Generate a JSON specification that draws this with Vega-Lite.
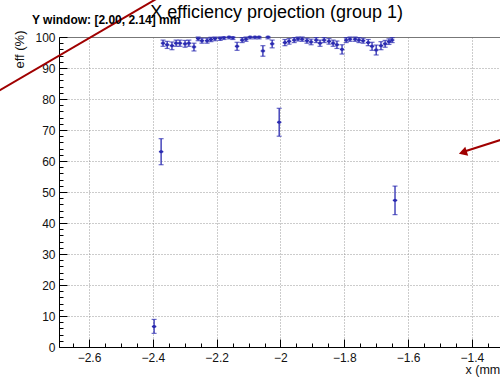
{
  "$schema": "https://vega.github.io/schema/vega-lite/v6.json",
  "width": 441,
  "height": 310,
  "autosize": {"type": "none"},
  "padding": {"left": 59, "top": 37, "right": 0, "bottom": 32},
  "background": "white",
  "config": {"view": {"stroke": null}, "font": "Liberation Sans"},
  "datasets": {
    "pts": [
      {"x": -2.396, "y": 6.6, "ylo": 4.4, "yhi": 8.9, "xlo": -2.403, "xhi": -2.389},
      {"x": -2.374, "y": 63.0, "ylo": 58.8, "yhi": 67.2, "xlo": -2.381, "xhi": -2.367},
      {"x": -2.368, "y": 98.0, "ylo": 97.0, "yhi": 99.0, "xlo": -2.375, "xhi": -2.361},
      {"x": -2.355, "y": 97.5, "ylo": 96.3, "yhi": 98.6, "xlo": -2.362, "xhi": -2.348},
      {"x": -2.340, "y": 97.2, "ylo": 95.9, "yhi": 98.4, "xlo": -2.347, "xhi": -2.333},
      {"x": -2.327, "y": 98.0, "ylo": 97.0, "yhi": 99.0, "xlo": -2.334, "xhi": -2.320},
      {"x": -2.315, "y": 98.0, "ylo": 97.0, "yhi": 99.0, "xlo": -2.322, "xhi": -2.308},
      {"x": -2.299, "y": 97.8, "ylo": 96.7, "yhi": 98.9, "xlo": -2.306, "xhi": -2.292},
      {"x": -2.287, "y": 98.0, "ylo": 97.0, "yhi": 99.0, "xlo": -2.294, "xhi": -2.280},
      {"x": -2.271, "y": 96.8, "ylo": 95.5, "yhi": 98.0, "xlo": -2.278, "xhi": -2.264},
      {"x": -2.258, "y": 99.5, "ylo": 98.8, "yhi": 100, "xlo": -2.265, "xhi": -2.251},
      {"x": -2.246, "y": 98.8, "ylo": 98.0, "yhi": 99.6, "xlo": -2.253, "xhi": -2.239},
      {"x": -2.230, "y": 98.8, "ylo": 98.0, "yhi": 99.6, "xlo": -2.237, "xhi": -2.223},
      {"x": -2.218, "y": 99.2, "ylo": 98.5, "yhi": 99.9, "xlo": -2.225, "xhi": -2.211},
      {"x": -2.205, "y": 99.5, "ylo": 98.8, "yhi": 100, "xlo": -2.212, "xhi": -2.198},
      {"x": -2.189, "y": 99.6, "ylo": 98.9, "yhi": 100, "xlo": -2.196, "xhi": -2.182},
      {"x": -2.177, "y": 99.8, "ylo": 99.2, "yhi": 100, "xlo": -2.184, "xhi": -2.170},
      {"x": -2.161, "y": 100, "ylo": 99.4, "yhi": 100, "xlo": -2.168, "xhi": -2.154},
      {"x": -2.149, "y": 99.8, "ylo": 99.2, "yhi": 100, "xlo": -2.156, "xhi": -2.142},
      {"x": -2.136, "y": 97.0, "ylo": 95.7, "yhi": 98.3, "xlo": -2.143, "xhi": -2.129},
      {"x": -2.120, "y": 99.0, "ylo": 98.2, "yhi": 99.8, "xlo": -2.127, "xhi": -2.113},
      {"x": -2.108, "y": 99.3, "ylo": 98.6, "yhi": 100, "xlo": -2.115, "xhi": -2.101},
      {"x": -2.095, "y": 100, "ylo": 99.4, "yhi": 100, "xlo": -2.102, "xhi": -2.088},
      {"x": -2.080, "y": 100, "ylo": 99.4, "yhi": 100, "xlo": -2.087, "xhi": -2.073},
      {"x": -2.067, "y": 100, "ylo": 99.4, "yhi": 100, "xlo": -2.074, "xhi": -2.060},
      {"x": -2.055, "y": 95.5, "ylo": 93.8, "yhi": 97.2, "xlo": -2.062, "xhi": -2.048},
      {"x": -2.039, "y": 100, "ylo": 99.4, "yhi": 100, "xlo": -2.046, "xhi": -2.032},
      {"x": -2.026, "y": 97.8, "ylo": 96.5, "yhi": 99.0, "xlo": -2.033, "xhi": -2.019},
      {"x": -2.004, "y": 72.5, "ylo": 68.0, "yhi": 77.0, "xlo": -2.011, "xhi": -1.997},
      {"x": -1.986, "y": 98.2, "ylo": 97.2, "yhi": 99.2, "xlo": -1.993, "xhi": -1.979},
      {"x": -1.973, "y": 98.6, "ylo": 97.7, "yhi": 99.5, "xlo": -1.980, "xhi": -1.966},
      {"x": -1.957, "y": 99.0, "ylo": 98.2, "yhi": 99.8, "xlo": -1.964, "xhi": -1.950},
      {"x": -1.945, "y": 99.4, "ylo": 98.7, "yhi": 100, "xlo": -1.952, "xhi": -1.938},
      {"x": -1.932, "y": 99.3, "ylo": 98.6, "yhi": 100, "xlo": -1.939, "xhi": -1.925},
      {"x": -1.917, "y": 98.8, "ylo": 98.0, "yhi": 99.6, "xlo": -1.924, "xhi": -1.910},
      {"x": -1.904, "y": 98.4, "ylo": 97.5, "yhi": 99.3, "xlo": -1.911, "xhi": -1.897},
      {"x": -1.888, "y": 99.0, "ylo": 98.2, "yhi": 99.8, "xlo": -1.895, "xhi": -1.881},
      {"x": -1.876, "y": 98.0, "ylo": 97.0, "yhi": 99.0, "xlo": -1.883, "xhi": -1.869},
      {"x": -1.863, "y": 99.0, "ylo": 98.2, "yhi": 99.8, "xlo": -1.870, "xhi": -1.856},
      {"x": -1.848, "y": 98.6, "ylo": 97.7, "yhi": 99.5, "xlo": -1.855, "xhi": -1.841},
      {"x": -1.835, "y": 98.0, "ylo": 97.0, "yhi": 99.0, "xlo": -1.842, "xhi": -1.828},
      {"x": -1.823, "y": 97.5, "ylo": 96.3, "yhi": 98.7, "xlo": -1.830, "xhi": -1.816},
      {"x": -1.807, "y": 96.0, "ylo": 94.5, "yhi": 97.5, "xlo": -1.814, "xhi": -1.800},
      {"x": -1.794, "y": 99.0, "ylo": 98.2, "yhi": 99.8, "xlo": -1.801, "xhi": -1.787},
      {"x": -1.782, "y": 99.3, "ylo": 98.6, "yhi": 100, "xlo": -1.789, "xhi": -1.775},
      {"x": -1.766, "y": 99.3, "ylo": 98.6, "yhi": 100, "xlo": -1.773, "xhi": -1.759},
      {"x": -1.754, "y": 99.0, "ylo": 98.2, "yhi": 99.8, "xlo": -1.761, "xhi": -1.747},
      {"x": -1.741, "y": 98.8, "ylo": 98.0, "yhi": 99.6, "xlo": -1.748, "xhi": -1.734},
      {"x": -1.725, "y": 98.2, "ylo": 97.2, "yhi": 99.2, "xlo": -1.732, "xhi": -1.718},
      {"x": -1.713, "y": 97.0, "ylo": 95.7, "yhi": 98.3, "xlo": -1.720, "xhi": -1.706},
      {"x": -1.700, "y": 95.8, "ylo": 94.2, "yhi": 97.4, "xlo": -1.707, "xhi": -1.693},
      {"x": -1.685, "y": 97.2, "ylo": 95.9, "yhi": 98.5, "xlo": -1.692, "xhi": -1.678},
      {"x": -1.672, "y": 97.8, "ylo": 96.7, "yhi": 98.9, "xlo": -1.679, "xhi": -1.665},
      {"x": -1.660, "y": 98.5, "ylo": 97.6, "yhi": 99.4, "xlo": -1.667, "xhi": -1.653},
      {"x": -1.650, "y": 99.0, "ylo": 98.2, "yhi": 99.8, "xlo": -1.657, "xhi": -1.643},
      {"x": -1.641, "y": 47.3, "ylo": 42.7, "yhi": 51.9, "xlo": -1.648, "xhi": -1.634}
    ],
    "arrows": [
      {"x1": -2.910, "y1": 81.0, "x2": -2.362, "y2": 113.9},
      {"x1": -1.280, "y1": 67.8, "x2": -1.431, "y2": 62.8}
    ],
    "heads": [{"x": -1.4285, "y": 62.77}],
    "labels": [
      {"x": -2.012, "y": 106.0, "t": "X efficiency projection (group 1)", "kind": "title"},
      {"x": -2.7787, "y": 104.2, "t": "Y window: [2.00, 2.14] mm", "kind": "win"}
    ]
  },
  "resolve": {"axis": {"x": "independent", "y": "independent"}},
  "layer": [
    {
      "data": {"name": "pts"},
      "mark": {"type": "rule", "color": "#2a2ab0", "strokeWidth": 1.3},
      "encoding": {
        "x": {"field": "xlo", "type": "quantitative",
          "scale": {"domain": [-2.694, -1.312], "nice": false, "zero": false},
          "axis": {"orient": "bottom", "values": [-2.6, -2.4, -2.2, -2.0, -1.8, -1.6, -1.4], "format": "~g",
            "tickSize": -8, "tickColor": "#000", "domainColor": "#000", "labelFontSize": 12, "labelColor": "#111",
            "labelPadding": 13, "grid": true, "gridDash": [1, 2], "gridColor": "#999", "gridWidth": 1,
            "title": "x (mm)", "titleFontSize": 12.5, "titleFontWeight": "normal", "titleColor": "#111",
            "titleAlign": "left", "titleAnchor": null, "titleX": 406, "titleY": 26, "titleBaseline": "alphabetic"}},
        "x2": {"field": "xhi"},
        "y": {"field": "y", "type": "quantitative",
          "scale": {"domain": [0, 100], "nice": false, "zero": false},
          "axis": {"orient": "left", "values": [0, 10, 20, 30, 40, 50, 60, 70, 80, 90, 100],
            "tickSize": -8, "tickColor": "#000", "domainColor": "#000", "labelFontSize": 12, "labelColor": "#111",
            "labelPadding": 12, "grid": true, "gridDash": [1, 2], "gridColor": "#999", "gridWidth": 1,
            "title": "eff (%)", "titleFontSize": 13, "titleFontWeight": "normal", "titleColor": "#111",
            "titleAngle": 270, "titleAlign": "right", "titleBaseline": "middle", "titleAnchor": null, "titleX": -40, "titleY": -7}}
      }
    },
    {
      "data": {"name": "pts"},
      "mark": {"type": "rule", "color": "#2a2ab0", "strokeWidth": 1.3},
      "encoding": {
        "x": {"field": "x", "type": "quantitative", "scale": {"domain": [-2.694, -1.312], "nice": false, "zero": false}, "axis": null},
        "y": {"field": "ylo", "type": "quantitative", "scale": {"domain": [0, 100], "nice": false, "zero": false}, "axis": null},
        "y2": {"field": "yhi"}
      }
    },
    {
      "data": {"name": "pts"},
      "mark": {"type": "tick", "orient": "horizontal", "color": "#2a2ab0", "size": 5, "thickness": 1.2},
      "encoding": {
        "x": {"field": "x", "type": "quantitative", "scale": {"domain": [-2.694, -1.312], "nice": false, "zero": false}, "axis": null},
        "y": {"field": "ylo", "type": "quantitative", "scale": {"domain": [0, 100], "nice": false, "zero": false}, "axis": null}
      }
    },
    {
      "data": {"name": "pts"},
      "mark": {"type": "tick", "orient": "horizontal", "color": "#2a2ab0", "size": 5, "thickness": 1.2},
      "encoding": {
        "x": {"field": "x", "type": "quantitative", "scale": {"domain": [-2.694, -1.312], "nice": false, "zero": false}, "axis": null},
        "y": {"field": "yhi", "type": "quantitative", "scale": {"domain": [0, 100], "nice": false, "zero": false}, "axis": null}
      }
    },
    {
      "data": {"name": "pts"},
      "mark": {"type": "point", "shape": "square", "filled": true, "color": "#2a2ab0", "size": 8, "opacity": 1},
      "encoding": {
        "x": {"field": "x", "type": "quantitative", "scale": {"domain": [-2.694, -1.312], "nice": false, "zero": false}, "axis": null},
        "y": {"field": "y", "type": "quantitative", "scale": {"domain": [0, 100], "nice": false, "zero": false}, "axis": null}
      }
    },
    {
      "data": {"name": "pts"},
      "mark": {"type": "point", "opacity": 0},
      "encoding": {
        "x": {"field": "x", "type": "quantitative", "scale": {"domain": [-2.694, -1.312], "nice": false, "zero": false},
          "axis": {"orient": "bottom", "values": [-2.65, -2.55, -2.5, -2.45, -2.35, -2.3, -2.25, -2.15, -2.1, -2.05, -1.95, -1.9, -1.85, -1.75, -1.7, -1.65, -1.55, -1.5, -1.45, -1.35],
            "labels": false, "domain": false, "grid": false, "tickSize": -4, "tickColor": "#000", "title": null}},
        "y": {"field": "y", "type": "quantitative", "scale": {"domain": [0, 100], "nice": false, "zero": false},
          "axis": {"orient": "left", "values": [2, 4, 6, 8, 12, 14, 16, 18, 22, 24, 26, 28, 32, 34, 36, 38, 42, 44, 46, 48, 52, 54, 56, 58, 62, 64, 66, 68, 72, 74, 76, 78, 82, 84, 86, 88, 92, 94, 96, 98],
            "labels": false, "domain": false, "grid": false, "tickSize": -4, "tickColor": "#000", "title": null}}
      }
    },
    {
      "data": {"name": "pts"},
      "mark": {"type": "point", "opacity": 0},
      "encoding": {
        "x": {"field": "x", "type": "quantitative", "scale": {"domain": [-2.694, -1.312], "nice": false, "zero": false},
          "axis": {"orient": "top", "labels": false, "ticks": false, "grid": false, "domain": true, "domainColor": "#777", "title": null}},
        "y": {"field": "y", "type": "quantitative", "scale": {"domain": [0, 100], "nice": false, "zero": false}, "axis": null}
      }
    },
    {
      "data": {"name": "arrows"},
      "mark": {"type": "rule", "color": "#a00000", "strokeWidth": 2},
      "encoding": {
        "x": {"field": "x1", "type": "quantitative", "scale": {"domain": [-2.694, -1.312], "nice": false, "zero": false}, "axis": null},
        "y": {"field": "y1", "type": "quantitative", "scale": {"domain": [0, 100], "nice": false, "zero": false}, "axis": null},
        "x2": {"field": "x2"},
        "y2": {"field": "y2"}
      }
    },
    {
      "data": {"name": "heads"},
      "mark": {"type": "point", "shape": "triangle-right", "filled": true, "color": "#a00000", "size": 90, "angle": 162, "opacity": 1},
      "encoding": {
        "x": {"field": "x", "type": "quantitative", "scale": {"domain": [-2.694, -1.312], "nice": false, "zero": false}, "axis": null},
        "y": {"field": "y", "type": "quantitative", "scale": {"domain": [0, 100], "nice": false, "zero": false}, "axis": null}
      }
    },
    {
      "data": {"name": "labels"},
      "transform": [{"filter": "datum.kind === 'title'"}],
      "mark": {"type": "text", "fontSize": 18, "align": "center", "baseline": "alphabetic", "color": "#000"},
      "encoding": {
        "x": {"field": "x", "type": "quantitative", "scale": {"domain": [-2.694, -1.312], "nice": false, "zero": false}, "axis": null},
        "y": {"field": "y", "type": "quantitative", "scale": {"domain": [0, 100], "nice": false, "zero": false}, "axis": null},
        "text": {"field": "t"}
      }
    },
    {
      "data": {"name": "labels"},
      "transform": [{"filter": "datum.kind === 'win'"}],
      "mark": {"type": "text", "fontSize": 12, "fontWeight": "bold", "align": "left", "baseline": "alphabetic", "color": "#000"},
      "encoding": {
        "x": {"field": "x", "type": "quantitative", "scale": {"domain": [-2.694, -1.312], "nice": false, "zero": false}, "axis": null},
        "y": {"field": "y", "type": "quantitative", "scale": {"domain": [0, 100], "nice": false, "zero": false}, "axis": null},
        "text": {"field": "t"}
      }
    }
  ]
}
